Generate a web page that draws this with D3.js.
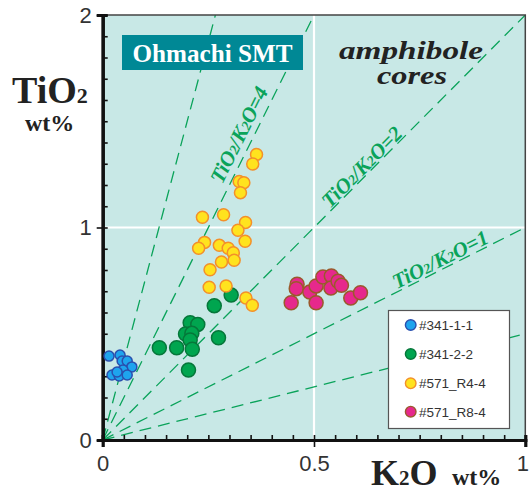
<!DOCTYPE html>
<html><head><meta charset="utf-8">
<script src="https://cdn.jsdelivr.net/npm/d3@7"></script>
<style>body{margin:0;background:#fff}svg{display:block}</style>
</head><body>
<svg id="c" width="529" height="492"></svg>
<script>
// ---- data ----
const series = ["#341-1-1", "#341-2-2", "#571_R4-4", "#571_R8-4"];
const blueK = [0.015,0.041,0.046,0.058,0.069,0.048,0.022,0.039,0.058,0.034];
const blueTi = [0.395,0.400,0.372,0.372,0.344,0.329,0.306,0.301,0.306,0.320];
const greenK = [0.304,0.264,0.207,0.225,0.196,0.211,0.207,0.274,0.134,0.175,0.212,0.203];
const greenTi = [0.682,0.632,0.552,0.544,0.499,0.502,0.471,0.481,0.434,0.434,0.427,0.329];
const yellowK = [0.364,0.355,0.323,0.334,0.326,0.236,0.286,0.338,0.320,0.337,0.241,0.227,0.276,0.297,0.309,0.311,0.281,0.254,0.252,0.292,0.339,0.354];
const yellowTi = [1.344,1.299,1.216,1.211,1.164,1.048,1.060,1.024,0.987,0.935,0.930,0.902,0.916,0.902,0.881,0.846,0.838,0.801,0.719,0.725,0.668,0.634];
const pinkK = [0.460,0.458,0.446,0.490,0.505,0.505,0.521,0.541,0.540,0.557,0.565,0.587,0.610];
const pinkTi = [0.733,0.712,0.646,0.696,0.725,0.646,0.767,0.772,0.715,0.747,0.728,0.668,0.693];
const ratioLines = [0.5, 1, 2, 4, 7.5];
const ratioLabels = [4, 2, 1];
const xTickLabels = [0, 0.5, 1];
const yTickLabels = [0, 1, 2];

// ---- setup ----
const svg = d3.select("#c");
const x = d3.scaleLinear([0,1],[102.7,525.3]);
const y = d3.scaleLinear([0,2],[440,15]);
const green = "#0aa35a";
const serif = "'Liberation Serif','Times New Roman',serif";
const fontSans = "'Liberation Sans',Arial,sans-serif";

svg.append("defs").append("clipPath").attr("id","clip")
  .append("rect").attr("x",x(0)).attr("y",y(2)).attr("width",x(1)-x(0)).attr("height",y(0)-y(2));

svg.append("rect").attr("x",x(0)).attr("y",y(2)).attr("width",x(1)-x(0)).attr("height",y(0)-y(2))
  .attr("fill","#c8e8e6");

// white grid lines
svg.append("line").attr("x1",x(0.5)).attr("x2",x(0.5)).attr("y1",y(0)).attr("y2",y(2))
  .attr("stroke","#fff").attr("stroke-width",2.2);
svg.append("line").attr("x1",x(0)).attr("x2",x(1)).attr("y1",y(1)).attr("y2",y(1))
  .attr("stroke","#fff").attr("stroke-width",2.2);

// ratio dashed lines
const gl = svg.append("g").attr("clip-path","url(#clip)");
ratioLines.forEach(r => {
  const xe = Math.min(1, 2 / r);
  gl.append("line").attr("x1",x(0)).attr("y1",y(0)).attr("x2",x(xe)).attr("y2",y(r*xe))
    .attr("stroke",green).attr("stroke-width",1.3).attr("stroke-dasharray","12,7");
});

// ratio labels
const labelPos = {4:{at:0.352,off:14}, 2:{at:0.628,off:9}, 1:{at:0.809,off:10}};
ratioLabels.forEach(r => {
  const a = Math.atan2(y(r)-y(0), x(1)-x(0));
  const p = labelPos[r];
  const px = x(p.at), py = y(r*p.at);
  const cx = px + p.off*Math.sin(a), cy = py - p.off*Math.cos(a);
  const t = svg.append("text").attr("transform",`translate(${cx},${cy}) rotate(${a*180/Math.PI})`)
    .attr("text-anchor","middle").attr("dy","0.35em")
    .attr("font-family",serif).attr("font-style","italic")
    .attr("font-weight","bold").attr("font-size",21).attr("fill",green);
  t.append("tspan").text("TiO");
  t.append("tspan").attr("font-size",14).text("2");
  t.append("tspan").text("/K");
  t.append("tspan").attr("font-size",14).text("2");
  t.append("tspan").text("O=" + r);
});

// frame top/right
svg.append("path").attr("d",`M${x(0)},${y(2)}H${x(1)}V${y(0)}`).attr("fill","none")
  .attr("stroke","#444").attr("stroke-width",1.5);

// axes
const xMinor = svg.append("g").attr("transform",`translate(0,${y(0)})`)
  .call(d3.axisBottom(x).tickValues(d3.range(0,1.0001,0.05)).tickSize(-5).tickFormat(""));
const xMajor = svg.append("g").attr("transform",`translate(0,${y(0)})`)
  .call(d3.axisBottom(x).tickValues(xTickLabels).tickSize(7).tickPadding(8).tickFormat(d => d===0?"0":d===1?"1":d3.format(".1f")(d)));
const yMinor = svg.append("g").attr("transform",`translate(${x(0)},0)`)
  .call(d3.axisLeft(y).tickValues(d3.range(0,2.0001,0.1)).tickSize(-5).tickFormat(""));
const yMajor = svg.append("g").attr("transform",`translate(${x(0)},0)`)
  .call(d3.axisLeft(y).tickValues(yTickLabels).tickSize(6).tickPadding(5).tickFormat(d3.format("d")));
[xMinor,xMajor,yMinor,yMajor].forEach(g => {
  g.select(".domain").attr("stroke","#111").attr("stroke-width",3.2);
  g.selectAll(".tick line").attr("stroke","#111").attr("stroke-width",1.6);
  g.selectAll("text").attr("font-family",fontSans).attr("font-size",22).attr("fill","#333");
});
xMajor.selectAll(".tick text").filter(d => d===1).attr("dx",-3);

// points
const groups = [
  {k:blueK, t:blueTi, fill:"#1ea4ee", stroke:"#2a4fae", r:5},
  {k:greenK, t:greenTi, fill:"#00a54f", stroke:"#05773a", r:7},
  {k:yellowK, t:yellowTi, fill:"#ffe31e", stroke:"#f3902a", r:6},
  {k:pinkK, t:pinkTi, fill:"#e6288c", stroke:"#9a5a2c", r:7}
];
groups.forEach(g => {
  svg.append("g").selectAll("circle").data(g.k.map((k,i)=>[k,g.t[i]])).join("circle")
    .attr("cx",d=>x(d[0])).attr("cy",d=>y(d[1])).attr("r",g.r)
    .attr("fill",g.fill).attr("stroke",g.stroke).attr("stroke-width",1.5);
});

// Ohmachi box
svg.append("rect").attr("x",122).attr("y",35).attr("width",181).attr("height",35).attr("fill","#008895");
svg.append("text").attr("x",212.5).attr("y",62).attr("text-anchor","middle")
  .attr("font-family",serif).attr("font-weight","bold")
  .attr("font-size",26).attr("fill","#fff").attr("textLength",160).attr("lengthAdjust","spacingAndGlyphs").text("Ohmachi SMT");

// amphibole cores
svg.append("text").attr("x",411).attr("y",59).attr("text-anchor","middle")
  .attr("font-family",serif).attr("font-weight","bold").attr("font-style","italic")
  .attr("font-size",25).attr("fill","#222").attr("textLength",144).attr("lengthAdjust","spacingAndGlyphs").text("amphibole");
svg.append("text").attr("x",412).attr("y",84).attr("text-anchor","middle")
  .attr("font-family",serif).attr("font-weight","bold").attr("font-style","italic")
  .attr("font-size",25).attr("fill","#222").attr("textLength",70).attr("lengthAdjust","spacingAndGlyphs").text("cores");

// axis titles
const yt = svg.append("text").attr("x",12).attr("y",103).attr("font-family",serif).attr("font-weight","bold").attr("fill","#222");
yt.append("tspan").attr("font-size",38).text("TiO");
yt.append("tspan").attr("font-size",22).text("2");
svg.append("text").attr("x",25).attr("y",131).attr("font-family",serif).attr("font-weight","bold")
  .attr("font-size",24).attr("fill","#222").text("wt%");
const xt = svg.append("text").attr("x",371).attr("y",485).attr("font-family",serif).attr("font-weight","bold").attr("fill","#222");
xt.append("tspan").attr("font-size",36).text("K");
xt.append("tspan").attr("font-size",21).text("2");
xt.append("tspan").attr("font-size",36).text("O");
svg.append("text").attr("x",452).attr("y",485).attr("font-family",serif).attr("font-weight","bold")
  .attr("font-size",24).attr("fill","#222").text("wt%");

// legend
const lg = svg.append("g");
lg.append("rect").attr("x",388.5).attr("y",310.5).attr("width",121).attr("height",118)
  .attr("fill","#fff").attr("stroke","#555").attr("stroke-width",1.2);
const ly = [325,354,383.3,411.7];
series.forEach((s,i) => {
  lg.append("circle").attr("cx",410.7).attr("cy",ly[i]).attr("r",5.3)
    .attr("fill",groups[i].fill).attr("stroke",groups[i].stroke).attr("stroke-width",1.4);
  lg.append("text").attr("x",419).attr("y",ly[i]+5).attr("font-family",fontSans)
    .attr("font-size",13.5).attr("fill","#333").text(s);
});
</script>
</body></html>
